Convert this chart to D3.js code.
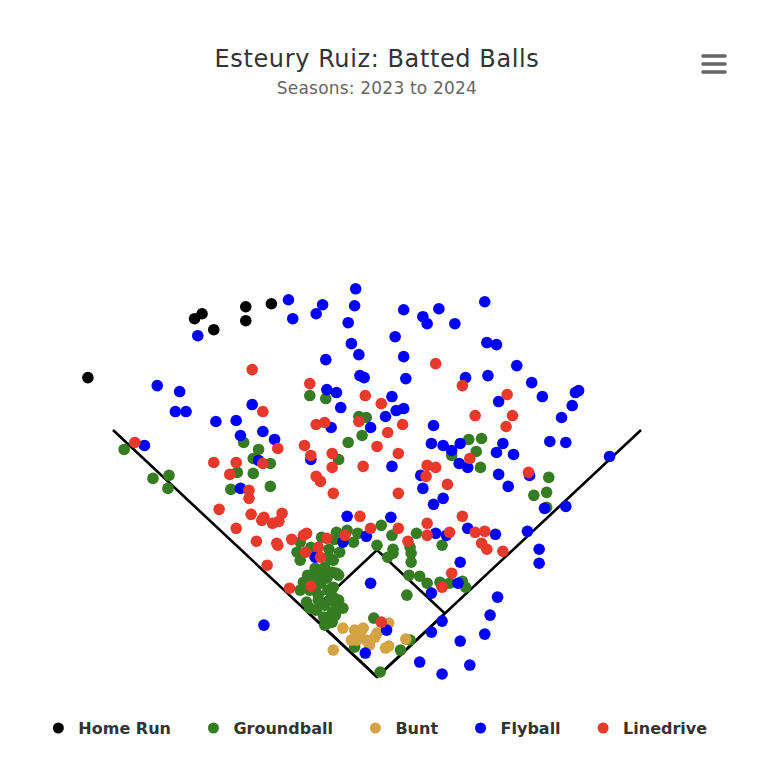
<!DOCTYPE html>
<html>
<head>
<meta charset="utf-8">
<script src="https://cdn.jsdelivr.net/npm/d3@7"></script>
<style>
  body { margin: 0; background: #fff; }
  svg { display: block; font-family: "DejaVu Sans", Verdana, sans-serif; }
</style>
</head>
<body>
<div id="chart"></div>
<script>
// batted balls, field coords in feet: x = left(-)/right(+), y = distance out from home
var homeRuns = [[-99,374],[-123,371],[-123,357],[-164,364],[-171,359],[-153,348],[-271,300]];

var groundballs = [[-63,282],[-48,279],[-17,261],[-10,260],[-14,242],[-27,235],[70,222],[-36,218],
  [-237,228],[-210,199],[-195,202],[-196,189],[-125,235],[-111,228],[-116,219],[-100,214],[-131,205],
  [-116,204],[-137,188],[-100,191],[86,238],[98,239],[93,226],[97,210],[161,200],[159,185],[147,182],
  [159,170],[4,152],[14,142],[37,144],[61,132],[-28,147],[-18,144],[-22,135],[0,132],[15,128],[-38,145],
  [15,124],[10,120],[31,130],[32,124],[32,115],[28,82],[30,102],[40,101],[47,94],[59,95],[68,94],[80,96],
  [83,90],[-41,117],[-38,104],[-41,90],[-36,77],[-32,69],[-42,55],[-3,59],[31,37],[22,27],[3,5],[-21,30],
  [-72,135],[-75,125],[-72,117],[-58,109],[-49,110],[-42,105],[-69,95],[-72,87],[-58,87],[-53,94],[-47,99],
  [-66,75],[-55,77],[-63,69],[-57,67],[-50,60],[-42,65],[-38,70],[-46,54],[-41,80],[-36,102],[-60,100],
  [-62,130],[-45,128],[-40,138],[-52,140],[-35,125],[-45,120],
  [-63,87],[-55,82],[-49,72],[-44,77],[-52,107],[-55,97],[-65,102],[-46,87],[-39,62],[-49,52]];

var bunts = [[-32,49],[-41,27],[-21,47],[-13,49],[-19,37],[-10,37],[-2,40],[-7,32],[8,29],[11,31],
  [27,38],[-24,37],[-16,44],[0,44],[11,54]];

var flyballs = [[-168,342],[-206,292],[-185,286],[-189,266],[-179,266],[-117,273],[-151,256],[-132,257],
  [-20,389],[-83,378],[-51,373],[-57,364],[-21,372],[-79,359],[-27,355],[25,368],[43,361],[47,354],
  [58,369],[73,354],[-24,334],[-17,323],[17,341],[-48,318],[25,321],[-16,302],[-12,300],[27,299],
  [83,300],[-47,288],[-38,285],[-34,270],[14,281],[18,267],[25,269],[8,261],[101,376],[103,335],
  [112,333],[131,312],[104,302],[145,295],[155,281],[186,285],[189,287],[114,276],[183,272],[173,260],
  [-218,232],[-128,242],[-107,246],[-96,238],[-111,217],[-128,189],[-43,250],[-6,250],[53,252],[51,234],
  [62,232],[70,227],[78,234],[-62,218],[14,211],[41,202],[43,189],[77,214],[85,210],[62,179],[53,173],
  [-28,161],[13,160],[85,149],[-10,141],[55,144],[65,142],[-32,135],[118,234],[112,225],[128,223],
  [162,236],[177,235],[218,221],[114,203],[123,191],[143,202],[157,169],[177,171],[111,143],[141,146],
  [152,128],[152,114],[78,115],[76,94],[113,80],[106,62],[101,43],[61,56],[78,36],[87,12],[61,3],
  [-6,94],[51,84],[51,45],[40,15],[9,47],[-11,24],[-106,52],[-58,120]];

var linedrives = [[-117,308],[-107,266],[55,314],[-63,294],[-11,282],[4,274],[80,292],[122,283],
  [92,262],[127,262],[121,251],[-227,235],[-93,229],[-153,215],[-132,215],[-138,203],[-107,214],
  [-120,187],[-120,179],[-148,168],[-118,163],[-108,157],[-106,160],[-98,154],[-89,164],[-92,156],
  [-132,149],[-113,136],[-94,134],[-17,256],[-57,253],[-49,255],[24,253],[10,245],[-68,232],[0,231],
  [20,224],[-62,222],[-42,224],[-42,210],[-13,211],[47,212],[55,210],[46,201],[87,219],[-57,201],
  [-53,196],[-41,184],[20,184],[66,193],[-16,161],[80,161],[47,154],[20,149],[-80,138],[-69,142],
  [-66,144],[-47,139],[-30,142],[-6,149],[29,136],[47,142],[68,145],[-55,130],[142,205],[92,145],
  [101,146],[98,134],[103,128],[118,126],[70,104],[61,90],[-93,132],[-67,125],[-53,120],[-103,112],
  [-82,89],[-62,91],[4,55]];

var seriesNames = ["Home Run", "Groundball", "Bunt", "Flyball", "Linedrive"];
var seriesColors = ["#000000", "#357c22", "#d4a444", "#0000ff", "#e8392b"];
var seriesData = [homeRuns, groundballs, bunts, flyballs, linedrives];

// field: foul lines 350 ft, bases 90 ft apart
var foulLine = 350, basePath = 90;

var width = 768, height = 765;

var svg = d3.select("#chart").append("svg")
  .attr("width", width)
  .attr("height", height);

var x = d3.scaleLinear().domain([-250, 250]).range([110.3, 643.7]);
var y = d3.scaleLinear().domain([0, 400]).range([677, 277.8]);

// title
svg.append("text")
  .attr("x", 377).attr("y", 67)
  .attr("text-anchor", "middle")
  .style("font-size", "24px")
  .style("letter-spacing", "0.6px")
  .style("fill", "#333333")
  .text("Esteury Ruiz: Batted Balls");

svg.append("text")
  .attr("x", 377).attr("y", 94)
  .attr("text-anchor", "middle")
  .style("font-size", "17px")
  .style("letter-spacing", "0.2px")
  .style("fill", "#666666")
  .text("Seasons: 2023 to 2024");

// export menu icon
svg.append("g").selectAll("line")
  .data([56, 64, 72])
  .enter().append("line")
  .attr("x1", 703).attr("x2", 725)
  .attr("y1", function(d) { return d; })
  .attr("y2", function(d) { return d; })
  .attr("stroke", "#666666")
  .attr("stroke-width", 3.6)
  .attr("stroke-linecap", "round");

// field lines
var fl = foulLine * Math.SQRT1_2, bp = basePath * Math.SQRT1_2;
var line = d3.line().x(function(d) { return x(d[0]); }).y(function(d) { return y(d[1]); });

svg.append("path")
  .attr("d", line([[-fl, fl], [0, 0], [fl, fl]]))
  .attr("fill", "none").attr("stroke", "#000").attr("stroke-width", 2.6);

svg.append("path")
  .attr("d", line([[0, 0], [bp, bp], [0, 2 * bp], [-bp, bp], [0, 0]]))
  .attr("fill", "none").attr("stroke", "#000").attr("stroke-width", 2.6);

// points
seriesData.forEach(function(data, i) {
  svg.append("g")
    .attr("class", "series")
    .selectAll("circle")
    .data(data)
    .enter().append("circle")
    .attr("cx", function(d) { return x(d[0]); })
    .attr("cy", function(d) { return y(d[1]); })
    .attr("r", 5.8)
    .attr("fill", seriesColors[i]);
});

// legend
var legend = svg.append("g").attr("class", "legend");
var items = legend.selectAll("g")
  .data(seriesNames)
  .enter().append("g");

items.append("circle")
  .attr("cx", 0).attr("cy", 0).attr("r", 5.5)
  .attr("fill", function(d, i) { return seriesColors[i]; });

items.append("text")
  .attr("x", 20).attr("y", 6)
  .style("font-size", "16px")
  .style("font-weight", "bold")
  .style("fill", "#333333")
  .text(function(d) { return d; });

var pos = 0, offsets = [];
items.each(function() {
  offsets.push(pos);
  var w = d3.select(this).select("text").node().getComputedTextLength();
  pos += 20 + w + 42.5;
});
var total = pos - 42.5 + 5.5;
var startX = 380 - total / 2 + 5.5;
items.attr("transform", function(d, i) {
  return "translate(" + (startX + offsets[i]) + ",728)";
});
</script>
</body>
</html>
